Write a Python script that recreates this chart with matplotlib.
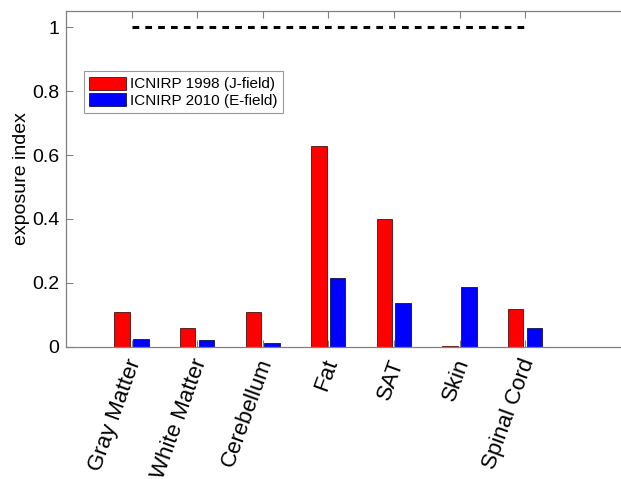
import matplotlib
matplotlib.use('Agg')
import matplotlib.pyplot as plt
import matplotlib.transforms as mtransforms
import numpy as np

plt.rcParams['font.family'] = ['Liberation Sans', 'DejaVu Sans']

tissues = ['Gray Matter', 'White Matter', 'Cerebellum', 'Fat', 'SAT', 'Skin', 'Spinal Cord']
icnirp_1998 = [0.108, 0.058, 0.110, 0.628, 0.400, 0.002, 0.118]
icnirp_2010 = [0.025, 0.021, 0.0125, 0.217, 0.137, 0.189, 0.058]
limit = 1.0

x = np.arange(1, len(tissues) + 1)
width = 0.236

fig = plt.figure(figsize=(6.21, 4.79), dpi=100)
ax = fig.add_axes([0.1063, 0.2756, 0.898, 0.7014])

red_bars = ax.bar(x - 0.145, icnirp_1998, width, color='#ff0000', edgecolor='#4a1010',
                  linewidth=0.6, label='ICNIRP 1998 (J-field)')
blue_bars = ax.bar(x + 0.14, icnirp_2010, width, color='#0000ff', edgecolor='#10104a',
                   linewidth=0.6, label='ICNIRP 2010 (E-field)')
ax.plot([x[0], x[-1]], [limit, limit], color='black', linestyle=(0, (2.2, 2.0)), linewidth=2.2)

ax.set_xlim(0, 8.5)
ax.set_ylim(0, 1.05)
ax.set_yticks([0, 0.2, 0.4, 0.6, 0.8, 1])
ax.set_yticklabels(['0', '0.2', '0.4', '0.6', '0.8', '1'])
ax.set_xticks(x)
ax.set_xticklabels(tissues, rotation=70, ha='right', va='center', rotation_mode='anchor', fontsize=16)
ax.set_ylabel('exposure index', fontsize=14, labelpad=1)

ax.tick_params(axis='both', direction='in', length=5, color='#808080', width=0.8,
               top=True, labelsize=14)
ax.tick_params(axis='y', pad=5)
ax.tick_params(axis='x', pad=9, labelsize=16)
for side in ['left', 'bottom', 'top', 'right']:
    ax.spines[side].set_color('#808080')
    ax.spines[side].set_linewidth(0.9)

# nudge the rotated tick labels to the right like the original
shift = mtransforms.ScaledTranslation(4 / 100, 0, fig.dpi_scale_trans)
for lbl in ax.get_xticklabels():
    lbl.set_transform(lbl.get_transform() + shift)

leg = ax.legend(handles=[red_bars, blue_bars], loc='upper left', bbox_to_anchor=(0.0315, 0.821),
                fontsize=11, frameon=True, fancybox=False, borderpad=0.35, handlelength=2.4,
                handleheight=0.95, handletextpad=0.3, labelspacing=0.1, borderaxespad=0)
leg.get_frame().set_edgecolor('#808080')
leg.get_frame().set_linewidth(0.8)

fig.savefig('out.png', dpi=100)
